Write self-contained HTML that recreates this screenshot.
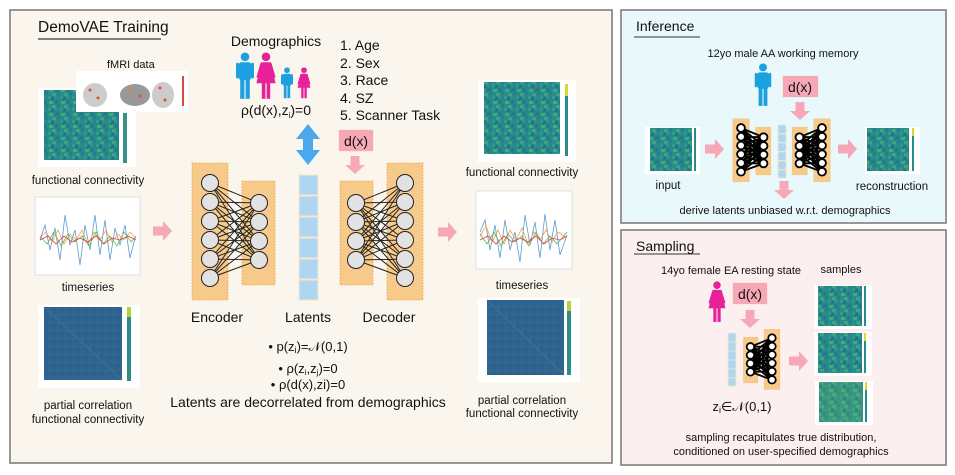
<!DOCTYPE html>
<html><head><meta charset="utf-8"><style>
html,body{margin:0;padding:0;background:#fff;}
svg{display:block;font-family:"Liberation Sans","DejaVu Sans",sans-serif;}
</style></head><body>
<svg width="955" height="475" viewBox="0 0 955 475" xmlns="http://www.w3.org/2000/svg">
<defs>
<pattern id="fc" patternUnits="userSpaceOnUse" width="12" height="12">
<rect width="12" height="12" fill="#268a8b"/>
<rect x="0" y="0" width="3" height="3" fill="#35998a"/>
<rect x="3" y="1" width="3" height="3" fill="#24708e"/>
<rect x="6" y="0" width="3" height="2" fill="#2f9a84"/>
<rect x="1" y="5" width="4" height="3" fill="#42ab7c"/>
<rect x="7" y="4" width="3" height="4" fill="#2a768e"/>
<rect x="0" y="9" width="3" height="3" fill="#21918c"/>
<rect x="4" y="9" width="4" height="3" fill="#3ea37f"/>
<rect x="9" y="8" width="3" height="3" fill="#2b7b8e"/>
</pattern>
<pattern id="pc" patternUnits="userSpaceOnUse" width="8" height="8">
<rect width="8" height="8" fill="#2f6490"/>
<rect x="1" y="2" width="2" height="2" fill="#33708e"/>
<rect x="5" y="5" width="2" height="2" fill="#2a5a8c"/>
</pattern>
<g id="net">
<rect x="-18" y="-20" width="36" height="137" fill="#f7c98a" stroke="#f0a030" stroke-width="0.8" stroke-dasharray="1.5 1.5"/>
<rect x="32" y="-2" width="33" height="104" fill="#f7c98a" stroke="#f0a030" stroke-width="0.8" stroke-dasharray="1.5 1.5"/>
<path fill="none" d="M0 0L49 20M0 0L49 39M0 0L49 58M0 0L49 77M0 19L49 20M0 19L49 39M0 19L49 58M0 19L49 77M0 38L49 20M0 38L49 39M0 38L49 58M0 38L49 77M0 57L49 20M0 57L49 39M0 57L49 58M0 57L49 77M0 76L49 20M0 76L49 39M0 76L49 58M0 76L49 77M0 95L49 20M0 95L49 39M0 95L49 58M0 95L49 77"/>
<circle cx="0" cy="0" r="8.5"/><circle cx="0" cy="19" r="8.5"/><circle cx="0" cy="38" r="8.5"/><circle cx="0" cy="57" r="8.5"/><circle cx="0" cy="76" r="8.5"/><circle cx="0" cy="95" r="8.5"/>
<circle cx="49" cy="20" r="8.5"/><circle cx="49" cy="39" r="8.5"/><circle cx="49" cy="58" r="8.5"/><circle cx="49" cy="77" r="8.5"/>
</g>
<g id="man"><circle cx="0" cy="-16" r="3.6"/><rect x="-5" y="-11.5" width="10" height="15" rx="2"/><rect x="-4" y="2" width="3.5" height="17"/><rect x="0.5" y="2" width="3.5" height="17"/><rect x="-7.5" y="-11" width="2.5" height="13" rx="1.2"/><rect x="5" y="-11" width="2.5" height="13" rx="1.2"/></g>
<g id="woman"><circle cx="0" cy="-16" r="3.6"/><path d="M-4 -11.5H4L8 6H-8Z"/><rect x="-3.5" y="5" width="3" height="14"/><rect x="0.5" y="5" width="3" height="14"/><path d="M-4.5 -11L-8 1L-6.5 1.5L-3 -9Z"/><path d="M4.5 -11L8 1L6.5 1.5L3 -9Z"/></g>
<g id="rarrow"><path d="M0 -4.5H10V-10L19 0L10 10V4.5H0Z" fill="#f7a8b8"/></g>
<g id="darrow"><path d="M-4.5 0V9H-10L0 18L10 9H4.5V0Z" fill="#f7a8b8"/></g>
</defs>

<!-- Main panel -->
<rect x="10" y="10" width="602" height="453" fill="#faf6ee" stroke="#777" stroke-width="1.5"/>
<text x="38" y="32" font-size="15.5" fill="#111">DemoVAE Training</text>
<line x1="38" y1="39" x2="161" y2="39" stroke="#333" stroke-width="1.2"/>

<!-- left FC -->
<rect x="38" y="88" width="98" height="79" fill="#fff"/>
<rect x="44" y="90" width="75" height="70" fill="url(#fc)"/>
<rect x="123" y="113" width="4" height="50" fill="#3b8f8a"/>
<rect x="76" y="71" width="112" height="41" fill="#fff"/>
<ellipse cx="95" cy="95" rx="12" ry="12" fill="#ccc"/><ellipse cx="135" cy="95" rx="15" ry="11" fill="#999"/><ellipse cx="163" cy="95" rx="11" ry="13" fill="#ccc"/>
<circle cx="90" cy="90" r="1.5" fill="#e8501e"/><circle cx="98" cy="98" r="1.5" fill="#e8501e"/><circle cx="130" cy="90" r="1.5" fill="#f08020"/><circle cx="140" cy="96" r="1.5" fill="#e8501e"/><circle cx="160" cy="88" r="1.5" fill="#e8501e"/><circle cx="165" cy="100" r="1.5" fill="#e8501e"/>
<rect x="182" y="76" width="2" height="30" fill="#d44"/>
<text x="107" y="68" font-size="11" fill="#111">fMRI data</text>
<text x="88" y="184" font-size="11.5" fill="#111" text-anchor="middle">functional connectivity</text>

<!-- left timeseries -->
<rect x="35" y="197" width="105" height="78" fill="#fff" stroke="#ccc" stroke-width="0.6"/>
<polyline fill="none" stroke="#5b9bd5" stroke-width="0.8" points="40,240 45,225 50,250 55,228 60,260 65,215 70,245 75,230 80,265 85,225 90,250 95,215 100,255 105,220 110,260 115,228 120,245 125,225 130,258 135,238"/>
<polyline fill="none" stroke="#f5a050" stroke-width="0.8" points="40,238 46,232 52,242 58,230 64,244 70,234 76,240 82,230 88,244 94,232 100,240 106,230 112,242 118,234 124,240 130,232 136,238"/>
<polyline fill="none" stroke="#5cb85c" stroke-width="0.8" points="40,236 47,244 54,232 61,246 68,234 75,242 82,236 89,246 96,232 103,244 110,236 117,246 124,232 131,242 136,236"/>
<polyline fill="none" stroke="#e04040" stroke-width="0.8" points="40,240 48,236 56,244 64,236 72,242 80,238 88,242 96,236 104,244 112,238 120,240 128,236 136,240"/>
<text x="88" y="291" font-size="11.5" fill="#111" text-anchor="middle">timeseries</text>

<!-- left partial -->
<rect x="38" y="305" width="102" height="83" fill="#fff"/>
<rect x="44" y="307" width="78" height="73" fill="url(#pc)"/>
<line x1="44" y1="307" x2="122" y2="380" stroke="#3a7f8e" stroke-width="2" opacity=".4"/>
<rect x="127" y="307" width="4" height="74" fill="#2f8a8a"/>
<rect x="127" y="307" width="4" height="10" fill="#b5d33a"/>
<text x="88" y="409" font-size="11.5" fill="#111" text-anchor="middle">partial correlation</text>
<text x="88" y="423" font-size="11.5" fill="#111" text-anchor="middle">functional connectivity</text>

<use href="#rarrow" x="153" y="231"/>

<!-- encoder / decoder -->
<use href="#net" transform="translate(210,183)" fill="#e2e2e2" stroke="#222" stroke-width="1"/>
<use href="#net" transform="translate(405,183) scale(-1,1)" fill="#e2e2e2" stroke="#222" stroke-width="1"/>
<text x="217" y="322" font-size="14" fill="#111" text-anchor="middle">Encoder</text>
<text x="308" y="322" font-size="14" fill="#111" text-anchor="middle">Latents</text>
<text x="389" y="322" font-size="14" fill="#111" text-anchor="middle">Decoder</text>

<!-- latents -->
<g fill="#aed6f1" stroke="#f7e7c8" stroke-width="1">
<rect x="299" y="175" width="19" height="20"/><rect x="299" y="196" width="19" height="20"/><rect x="299" y="217" width="19" height="20"/><rect x="299" y="238" width="19" height="20"/><rect x="299" y="259" width="19" height="20"/><rect x="299" y="280" width="19" height="20"/>
</g>
<path d="M308 124L320 139H313V150H320L308 165L296 150H303V139H296Z" fill="#4aa8ee"/>

<!-- demographics -->
<text x="276" y="46" font-size="14" fill="#111" text-anchor="middle">Demographics</text>
<use href="#man" transform="translate(245,76) scale(1.2)" fill="#1ba0e0"/>
<use href="#woman" transform="translate(266,76) scale(1.2)" fill="#e8209a"/>
<use href="#man" transform="translate(287,83) scale(0.8)" fill="#1ba0e0"/>
<use href="#woman" transform="translate(304,83) scale(0.8)" fill="#e8209a"/>
<text x="276" y="115" font-size="14" fill="#111" text-anchor="middle">ρ(d(x),z<tspan font-size="8" dy="3">i</tspan><tspan dy="-3">)=0</tspan></text>
<g font-size="14" fill="#111"><text x="340" y="50">1. Age</text><text x="340" y="68">2. Sex</text><text x="340" y="85">3. Race</text><text x="340" y="103">4. SZ</text><text x="340" y="120">5. Scanner Task</text></g>
<rect x="339" y="130" width="34" height="21" fill="#f7a8b8" stroke="#f0b070" stroke-width="0.6" stroke-dasharray="1.5 1.5"/>
<text x="356" y="146" font-size="14" fill="#111" text-anchor="middle">d(x)</text>
<use href="#darrow" x="355" y="156"/>
<use href="#rarrow" x="438" y="232"/>

<!-- bullets -->
<g font-size="13" fill="#111" text-anchor="middle">
<text x="308" y="351">• p(z<tspan font-size="9" dy="2">i</tspan><tspan dy="-2">)=𝒩(0,1)</tspan></text>
<text x="308" y="373">• ρ(z<tspan font-size="8" dy="2">i</tspan><tspan dy="-2">,z</tspan><tspan font-size="8" dy="2">j</tspan><tspan dy="-2">)=0</tspan></text>
<text x="308" y="389">• ρ(d(x),zi)=0</text>
<text x="308" y="407" font-size="14">Latents are decorrelated from demographics</text>
</g>

<!-- right FC -->
<rect x="478" y="80" width="98" height="82" fill="#fff"/>
<rect x="484" y="82" width="76" height="72" fill="url(#fc)"/>
<rect x="565" y="84" width="3" height="12" fill="#d8d830"/><rect x="565" y="96" width="3" height="60" fill="#2a8a8a"/>
<text x="522" y="176" font-size="11.5" fill="#111" text-anchor="middle">functional connectivity</text>
<rect x="476" y="191" width="96" height="78" fill="#fff" stroke="#ccc" stroke-width="0.6"/>
<polyline fill="none" stroke="#5b9bd5" stroke-width="0.8" points="480,232 485,220 490,250 495,225 500,258 505,220 510,250 515,232 520,262 525,215 530,245 535,222 540,258 545,214 550,250 555,220 560,255 567,235"/>
<polyline fill="none" stroke="#f5a050" stroke-width="0.8" points="480,236 486,226 492,242 498,230 504,244 510,230 516,240 522,228 528,244 534,232 540,240 546,230 552,242 558,232 567,238"/>
<polyline fill="none" stroke="#5cb85c" stroke-width="0.8" points="480,234 487,244 494,232 501,246 508,234 515,242 522,236 529,246 536,232 543,244 550,236 557,244 567,232"/>
<polyline fill="none" stroke="#e04040" stroke-width="0.8" points="480,240 488,236 496,244 504,236 512,242 520,238 528,242 536,236 544,244 552,238 560,240 567,236"/>
<text x="522" y="289" font-size="11.5" fill="#111" text-anchor="middle">timeseries</text>
<rect x="478" y="298" width="102" height="84" fill="#fff"/>
<rect x="487" y="300" width="77" height="75" fill="url(#pc)"/>
<line x1="487" y1="300" x2="564" y2="375" stroke="#3a7f8e" stroke-width="2" opacity=".4"/>
<rect x="567" y="301" width="4" height="74" fill="#2f8a8a"/><rect x="567" y="301" width="4" height="10" fill="#b5d33a"/>
<text x="522" y="404" font-size="11.5" fill="#111" text-anchor="middle">partial correlation</text>
<text x="522" y="417" font-size="11.5" fill="#111" text-anchor="middle">functional connectivity</text>

<!-- Inference panel -->
<rect x="621" y="10" width="325" height="213" fill="#e9f8fb" stroke="#777" stroke-width="1.5"/>
<text x="636" y="31" font-size="14" fill="#111">Inference</text>
<line x1="634" y1="37" x2="700" y2="37" stroke="#333" stroke-width="1"/>
<text x="783" y="57" font-size="11" fill="#111" text-anchor="middle">12yo male AA working memory</text>
<use href="#man" transform="translate(763,85) scale(1.1)" fill="#1ba0e0"/>
<rect x="783" y="76" width="35" height="21" fill="#f7a8b8" stroke="#f0b070" stroke-width="0.6" stroke-dasharray="1.5 1.5"/>
<text x="800" y="92" font-size="14" fill="#111" text-anchor="middle">d(x)</text>
<use href="#darrow" x="800" y="102"/>
<rect x="645" y="127" width="55" height="47" fill="#fff"/>
<rect x="650" y="128" width="42" height="43" fill="url(#fc)"/>
<rect x="694" y="128" width="2" height="43" fill="#2a8a8a"/>
<text x="668" y="189" font-size="11.5" fill="#111" text-anchor="middle">input</text>
<use href="#rarrow" x="705" y="149"/>
<use href="#net" transform="translate(741,128) scale(0.46)" fill="#fff" stroke="#000" stroke-width="4"/>
<g fill="#aed6f1" stroke="#f7e7c8" stroke-width="0.8">
<rect x="778" y="125" width="8" height="8.5"/><rect x="778" y="134" width="8" height="8.5"/><rect x="778" y="143" width="8" height="8.5"/><rect x="778" y="152" width="8" height="8.5"/><rect x="778" y="161" width="8" height="8.5"/><rect x="778" y="170" width="8" height="8"/>
</g>
<use href="#net" transform="translate(822,128) scale(-0.46,0.46)" fill="#fff" stroke="#000" stroke-width="4"/>
<use href="#rarrow" x="838" y="149"/>
<rect x="865" y="127" width="55" height="47" fill="#fff"/>
<rect x="867" y="128" width="42" height="43" fill="url(#fc)"/>
<rect x="912" y="128" width="2" height="43" fill="#2a8a8a"/><rect x="912" y="128" width="2" height="8" fill="#d8d830"/>
<text x="892" y="190" font-size="11.5" fill="#111" text-anchor="middle">reconstruction</text>
<use href="#darrow" x="784" y="181"/>
<text x="785" y="214" font-size="11" fill="#111" text-anchor="middle">derive latents unbiased w.r.t. demographics</text>

<!-- Sampling panel -->
<rect x="621" y="230" width="325" height="235" fill="#fcefef" stroke="#777" stroke-width="1.5"/>
<text x="636" y="251" font-size="14" fill="#111">Sampling</text>
<line x1="634" y1="254" x2="700" y2="254" stroke="#333" stroke-width="1"/>
<text x="731" y="274" font-size="11" fill="#111" text-anchor="middle">14yo female EA resting state</text>
<text x="841" y="273" font-size="11" fill="#111" text-anchor="middle">samples</text>
<use href="#woman" transform="translate(717,302) scale(1.05)" fill="#e8209a"/>
<rect x="733" y="283" width="34" height="21" fill="#f7a8b8" stroke="#f0b070" stroke-width="0.6" stroke-dasharray="1.5 1.5"/>
<text x="750" y="299" font-size="14" fill="#111" text-anchor="middle">d(x)</text>
<use href="#darrow" x="750" y="310"/>
<g fill="#aed6f1" stroke="#f7e7c8" stroke-width="0.8">
<rect x="728" y="333" width="8" height="9"/><rect x="728" y="342" width="8" height="9"/><rect x="728" y="351" width="8" height="9"/><rect x="728" y="360" width="8" height="9"/><rect x="728" y="369" width="8" height="9"/><rect x="728" y="378" width="8" height="8"/>
</g>
<use href="#net" transform="translate(772,338) scale(-0.44,0.44)" fill="#fff" stroke="#000" stroke-width="4"/>
<use href="#rarrow" x="789" y="361"/>
<g>
<rect x="814" y="285" width="58" height="44" fill="#fff"/><rect x="818" y="286" width="44" height="40" fill="url(#fc)"/><rect x="864" y="286" width="2" height="40" fill="#2a8a8a"/>
<rect x="814" y="332" width="58" height="44" fill="#fff"/><rect x="818" y="333" width="44" height="40" fill="url(#fc)"/><rect x="864" y="333" width="2" height="40" fill="#2a8a8a"/><rect x="864" y="333" width="2" height="8" fill="#d8d830"/>
<rect x="815" y="381" width="58" height="44" fill="#fff"/><rect x="819" y="382" width="44" height="40" fill="url(#fc)"/><rect x="819" y="382" width="44" height="40" fill="#6cc060" opacity=".25"/><rect x="865" y="382" width="2" height="40" fill="#2a8a8a"/><rect x="865" y="382" width="2" height="8" fill="#d8d830"/>
</g>
<text x="742" y="411" font-size="13" fill="#111" text-anchor="middle">z<tspan font-size="9" dy="2">i</tspan><tspan dy="-2">∈𝒩(0,1)</tspan></text>
<text x="781" y="441" font-size="11" fill="#111" text-anchor="middle">sampling recapitulates true distribution,</text>
<text x="781" y="455" font-size="11" fill="#111" text-anchor="middle">conditioned on user-specified demographics</text>
</svg>
</body></html>
